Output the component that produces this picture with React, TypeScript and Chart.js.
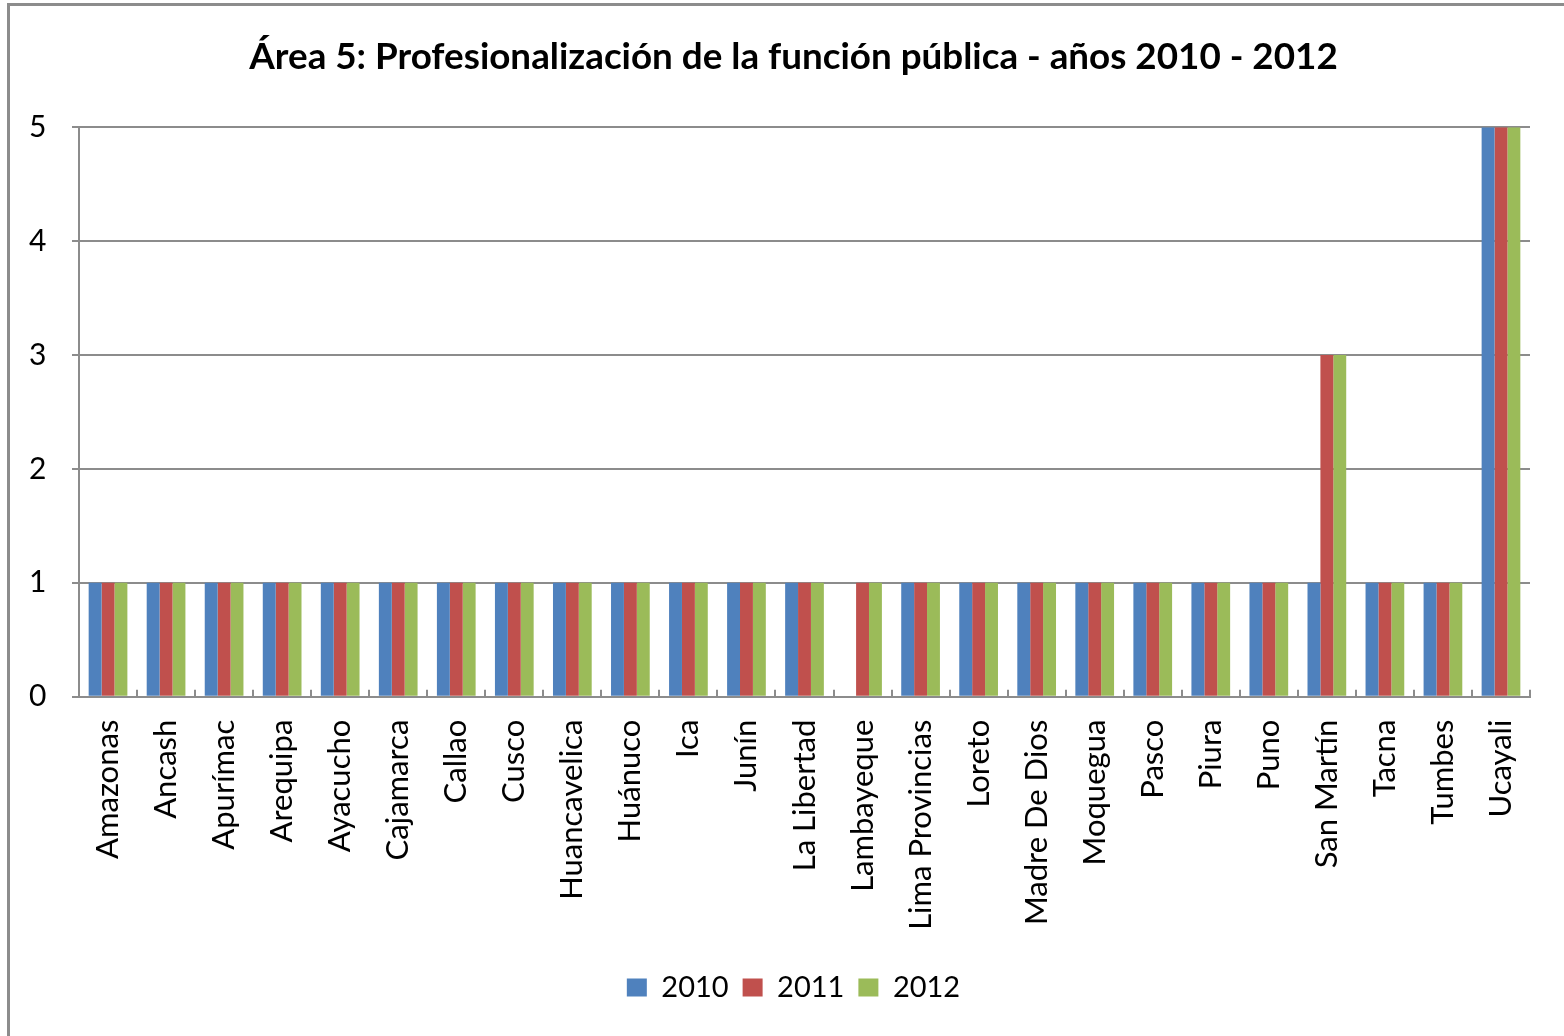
import React, { useEffect, useRef } from "react";
import { Chart, registerables } from "chart.js";

Chart.register(...registerables);

const categories = [
  "Amazonas", "Ancash", "Apurímac", "Arequipa", "Ayacucho", "Cajamarca", "Callao", "Cusco",
  "Huancavelica", "Huánuco", "Ica", "Junín", "La Libertad", "Lambayeque", "Lima Provincias",
  "Loreto", "Madre De Dios", "Moquegua", "Pasco", "Piura", "Puno", "San Martín", "Tacna",
  "Tumbes", "Ucayali",
];
const values2010 = [1, 1, 1, 1, 1, 1, 1, 1, 1, 1, 1, 1, 1, 0, 1, 1, 1, 1, 1, 1, 1, 1, 1, 1, 5];
const values2011 = [1, 1, 1, 1, 1, 1, 1, 1, 1, 1, 1, 1, 1, 1, 1, 1, 1, 1, 1, 1, 1, 3, 1, 1, 5];
const values2012 = [1, 1, 1, 1, 1, 1, 1, 1, 1, 1, 1, 1, 1, 1, 1, 1, 1, 1, 1, 1, 1, 3, 1, 1, 5];
const seriesNames = ["2010", "2011", "2012"];
const titleText = "Área 5: Profesionalización de la función pública - años 2010 - 2012";

const FONT = "Lato, 'Open Sans', sans-serif";
const GRID = "#8c8c8c";

const xTickMarks = {
  id: "xTickMarks",
  afterDatasetsDraw(chart: any) {
    const x = chart.scales.x;
    const ctx = chart.ctx;
    const n = chart.data.labels.length;
    const y0 = x.top;
    ctx.save();
    ctx.strokeStyle = GRID;
    ctx.lineWidth = 2;
    for (let i = 1; i <= n; i++) {
      const px = Math.round(x.left + ((x.right - x.left) * i) / n);
      ctx.beginPath();
      ctx.moveTo(px, y0);
      ctx.lineTo(px, y0 - 7);
      ctx.stroke();
    }
    ctx.restore();
  },
};

export default function App() {
  const ref = useRef<HTMLCanvasElement | null>(null);
  useEffect(() => {
    if (!ref.current) return;
    const chart = new Chart(ref.current, {
      type: "bar",
      data: {
        labels: categories,
        datasets: [
          { label: seriesNames[0], data: values2010, backgroundColor: "#4F81BD" },
          { label: seriesNames[1], data: values2011, backgroundColor: "#C0504D" },
          { label: seriesNames[2], data: values2012, backgroundColor: "#9BBB59" },
        ],
      },
      options: {
        animation: false,
        responsive: false,
        maintainAspectRatio: false,
        datasets: { bar: { categoryPercentage: 0.667, barPercentage: 1 } },
        layout: { padding: { left: 57, right: 34, top: 0, bottom: 24 } },
        plugins: {
          tooltip: { enabled: false },
          title: {
            display: true,
            text: titleText,
            color: "#000",
            font: { family: FONT, size: 36.8, weight: "bold" },
            padding: { top: 35, bottom: 48 },
          },
          legend: {
            position: "bottom",
            title: {
              display: true,
              text: " ",
              font: { family: FONT, size: 1 },
              padding: { top: 0, bottom: 13 },
            },
            labels: {
              color: "#000",
              font: { family: FONT, size: 29 },
              boxWidth: 20,
              boxHeight: 18,
              padding: 14,
            },
          },
        },
        scales: {
          x: {
            grid: { display: false },
            border: { display: true, color: GRID, width: 2 },
            ticks: {
              color: "#000",
              font: { family: FONT, size: 31 },
              minRotation: 90,
              maxRotation: 90,
              padding: 15,
              autoSkip: false,
            },
          },
          y: {
            min: 0,
            max: 5,
            afterFit: (scale: any) => {
              scale.width = 22;
            },
            grid: { color: GRID, lineWidth: 2, tickLength: 7, drawTicks: true },
            border: { display: true, color: GRID, width: 2 },
            ticks: {
              stepSize: 1,
              color: "#000",
              font: { family: FONT, size: 30 },
              mirror: true,
              padding: -50,
            },
          },
        },
      },
      plugins: [xTickMarks],
    });
    return () => chart.destroy();
  }, []);
  return (
    <div style={{ position: "absolute", left: 0, top: 0, width: 1564, height: 1036, overflow: "hidden", background: "#fff" }}>
      <div
        style={{
          position: "absolute",
          left: 7,
          top: 3,
          width: 1700,
          height: 1200,
          borderLeft: `3px solid ${GRID}`,
          borderTop: `3px solid ${GRID}`,
        }}
      />
      <canvas ref={ref} width={1564} height={1036} style={{ position: "absolute", left: 0, top: 0 }} />
    </div>
  );
}
